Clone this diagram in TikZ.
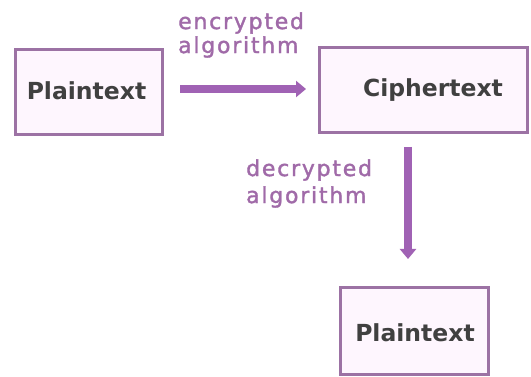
\documentclass[tikz,border=0pt]{standalone}
\usepackage{fontspec}
\setmainfont{DejaVu Sans}
\newfontfamily\lblfont[LetterSpace=8,FakeBold=1.5]{DejaVu Sans}
\usetikzlibrary{arrows.meta}
\definecolor{boxline}{HTML}{9C72A4}
\definecolor{boxfill}{HTML}{FEF6FE}
\definecolor{arrowc}{HTML}{A062B4}
\definecolor{labelc}{HTML}{A06AA8}
\definecolor{textc}{HTML}{404040}
\tikzset{
  box/.style={draw=boxline, line width=3pt, fill=boxfill, inner sep=0pt},
  boxtext/.style={text=textc, font=\bfseries\fontsize{23.5}{26}\selectfont},
  lbl/.style={text=labelc, font=\lblfont\fontsize{22}{24}\selectfont, align=left, inner sep=0pt},
  flow/.style={draw=arrowc, line width=7.5pt, -{Triangle[length=10pt,width=16pt]}}
}
\begin{document}
\begin{tikzpicture}[x=1pt,y=-1pt]
\useasboundingbox (0,0) rectangle (531,377);
\fill[white] (0,0) rectangle (531,377);
% boxes
\node[box, minimum width=147pt, minimum height=85pt] (p1) at (88.5,92.5) {};
\node[box, minimum width=208pt, minimum height=85pt] (c) at (423,90.5) {};
\node[box, minimum width=148pt, minimum height=87pt] (p2) at (414,331) {};
% texts
\node[boxtext] (t1) at (86.5,91) {Plaintext};
\node[boxtext] (t2) at (433,90) {Ciphertext};
\node[boxtext] (t3) at (415,333) {Plaintext};
% arrows
\coordinate (a1s) at (180,89);
\coordinate (a1e) at (306,89);
\coordinate (a2s) at (408,147);
\coordinate (a2e) at (408,259);
\draw[flow] (a1s) -- (a1e);
\draw[flow] (a2s) -- (a2e);
% labels
\node[lbl, anchor=west] (l1a) at (178,23) {encrypted};
\node[lbl, anchor=west] (l1b) at (178,47) {algorithm};
\node[lbl, anchor=west] (l2a) at (246,170) {decrypted};
\node[lbl, anchor=west] (l2b) at (246,197) {algorithm};
\end{tikzpicture}
\end{document}
